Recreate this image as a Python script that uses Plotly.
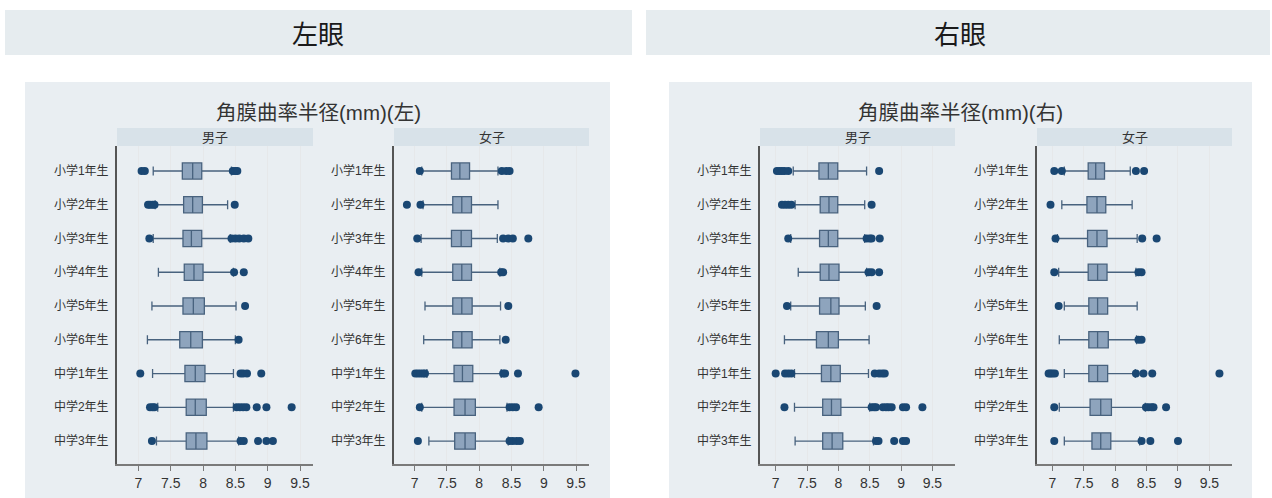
import plotly.graph_objects as go

W, H = 1272, 498

categories = ["小学1年生", "小学2年生", "小学3年生", "小学4年生", "小学5年生",
              "小学6年生", "中学1年生", "中学2年生", "中学3年生"]
x_ticks = [7, 7.5, 8, 8.5, 9, 9.5]
x_ticklabels = ["7", "7.5", "8", "8.5", "9", "9.5"]

# ---- Left eye, male ----
lm_low = [7.23, 7.26, 7.23, 7.31, 7.21, 7.14, 7.22, 7.30, 7.28]
lm_q1 = [7.68, 7.70, 7.69, 7.71, 7.69, 7.64, 7.72, 7.74, 7.74]
lm_med = [7.84, 7.84, 7.82, 7.86, 7.85, 7.81, 7.88, 7.88, 7.89]
lm_q3 = [7.98, 7.99, 7.98, 8.00, 8.02, 7.99, 8.03, 8.05, 8.06]
lm_high = [8.44, 8.38, 8.42, 8.47, 8.51, 8.50, 8.47, 8.47, 8.55]
lm_out = [[7.05, 7.10, 8.46, 8.50, 8.53],
          [7.15, 7.18, 7.22, 7.25, 8.49],
          [7.17, 8.44, 8.50, 8.56, 8.63, 8.70],
          [8.48, 8.63],
          [8.65],
          [8.55],
          [7.03, 8.58, 8.62, 8.68, 8.90],
          [7.18, 7.22, 7.25, 8.52, 8.57, 8.62, 8.67, 8.83, 8.98, 9.37],
          [7.21, 8.58, 8.63, 8.85, 8.98, 9.08]]

# ---- Left eye, female ----
lf_low = [7.11, 7.13, 7.10, 7.11, 7.16, 7.14, 7.19, 7.11, 7.22]
lf_q1 = [7.57, 7.59, 7.57, 7.59, 7.59, 7.59, 7.61, 7.61, 7.62]
lf_med = [7.70, 7.73, 7.72, 7.73, 7.73, 7.73, 7.74, 7.78, 7.78]
lf_q3 = [7.85, 7.88, 7.88, 7.88, 7.89, 7.89, 7.90, 7.94, 7.94]
lf_high = [8.29, 8.29, 8.28, 8.32, 8.33, 8.32, 8.34, 8.43, 8.45]
lf_out = [[7.08, 8.35, 8.42, 8.47],
          [6.88, 7.09],
          [7.04, 8.37, 8.45, 8.52, 8.76],
          [7.06, 8.34, 8.37],
          [8.45],
          [8.41],
          [7.01, 7.05, 7.09, 7.13, 7.16, 8.37, 8.40, 8.60, 9.49],
          [7.08, 8.47, 8.52, 8.57, 8.92],
          [7.05, 8.47, 8.52, 8.58, 8.63]]

# ---- Right eye, male ----
rm_low = [7.28, 7.31, 7.24, 7.36, 7.24, 7.14, 7.30, 7.30, 7.31]
rm_q1 = [7.69, 7.71, 7.70, 7.71, 7.70, 7.65, 7.73, 7.75, 7.75]
rm_med = [7.84, 7.85, 7.84, 7.85, 7.88, 7.84, 7.88, 7.89, 7.90]
rm_q3 = [7.99, 7.99, 7.99, 8.01, 8.01, 8.00, 8.03, 8.04, 8.07]
rm_high = [8.45, 8.42, 8.42, 8.45, 8.43, 8.49, 8.48, 8.50, 8.56]
rm_out = [[7.02, 7.06, 7.10, 7.14, 7.20, 8.65],
          [7.10, 7.15, 7.20, 7.25, 8.53],
          [7.20, 8.45, 8.50, 8.53, 8.66],
          [8.48, 8.53, 8.65],
          [7.18, 8.61],
          [],
          [7.00, 7.15, 7.20, 7.25, 8.58, 8.65, 8.70, 8.74],
          [7.14, 8.53, 8.57, 8.60, 8.71, 8.76, 8.80, 8.85, 9.03, 9.08, 9.34],
          [8.60, 8.64, 8.89, 9.03, 9.08]]

# ---- Right eye, female ----
rf_low = [7.19, 7.15, 7.08, 7.10, 7.19, 7.11, 7.19, 7.11, 7.19]
rf_q1 = [7.57, 7.55, 7.56, 7.57, 7.58, 7.58, 7.58, 7.60, 7.63]
rf_med = [7.69, 7.71, 7.71, 7.72, 7.72, 7.72, 7.72, 7.77, 7.77]
rf_q3 = [7.83, 7.85, 7.87, 7.87, 7.88, 7.89, 7.88, 7.94, 7.93]
rf_high = [8.24, 8.27, 8.35, 8.33, 8.35, 8.34, 8.32, 8.48, 8.39]
rf_out = [[7.03, 7.15, 8.33, 8.46],
          [6.97],
          [7.05, 8.43, 8.66],
          [7.03, 8.37, 8.42],
          [7.10],
          [8.37, 8.42],
          [6.94, 6.97, 7.00, 7.04, 8.33, 8.45, 8.59, 9.66],
          [7.03, 8.49, 8.53, 8.58, 8.61, 8.81],
          [7.03, 8.42, 8.56, 9.00]]

panel_titles = ["角膜曲率半径(mm)(左)", "角膜曲率半径(mm)(右)"]
eye_headers = ["左眼", "右眼"]
sex_labels = ["男子", "女子"]

BOX_FILL = "#8ea4bd"
BOX_LINE = "#48627e"
DOT = "#1a4773"
HEADER_BG = "#e6ecef"
PANEL_BG = "#e9eef2"
STRIP_BG = "#d8e2e9"
FONT = "Liberation Sans, Arial, Noto Sans CJK JP, sans-serif"

def px_x(x):
    return x / W

def px_y(y):
    return 1 - y / H

panels = [
    dict(data=(lm_low, lm_q1, lm_med, lm_q3, lm_high, lm_out), x0=117, x1=313, rng=[6.67, 9.70]),
    dict(data=(lf_low, lf_q1, lf_med, lf_q3, lf_high, lf_out), x0=394, x1=589, rng=[6.68, 9.70]),
    dict(data=(rm_low, rm_q1, rm_med, rm_q3, rm_high, rm_out), x0=760, x1=955, rng=[6.75, 9.86]),
    dict(data=(rf_low, rf_q1, rf_med, rf_q3, rf_high, rf_out), x0=1037, x1=1232, rng=[6.755, 9.86]),
]
PLOT_TOP, PLOT_BOT = 146, 464
STRIP_TOP = 128

fig = go.Figure()
layout_axes = {}
shapes = []
annotations = []

# background shapes
for (a, b) in [(5, 632), (646, 1270)]:
    shapes.append(dict(type="rect", xref="paper", yref="paper", layer="below",
                       x0=px_x(a), x1=px_x(b), y0=px_y(55), y1=px_y(10),
                       fillcolor=HEADER_BG, line=dict(width=0)))
for (a, b) in [(25, 610), (669, 1252)]:
    shapes.append(dict(type="rect", xref="paper", yref="paper", layer="below",
                       x0=px_x(a), x1=px_x(b), y0=px_y(498), y1=px_y(82),
                       fillcolor=PANEL_BG, line=dict(width=0)))

for i, p in enumerate(panels):
    n = i + 1
    xa = "x" if n == 1 else f"x{n}"
    ya = "y" if n == 1 else f"y{n}"
    low, q1, med, q3, high, outs = p["data"]
    fig.add_trace(go.Box(
        y=categories, q1=q1, median=med, q3=q3,
        lowerfence=low, upperfence=high,
        orientation="h", boxpoints=False,
        fillcolor=BOX_FILL, line=dict(color=BOX_LINE, width=1.3),
        width=0.48, whiskerwidth=0.55,
        xaxis=xa, yaxis=ya, showlegend=False, hoverinfo="skip",
    ))
    ox, oy = [], []
    for cat, vals in zip(categories, outs):
        for v in vals:
            ox.append(v)
            oy.append(cat)
    fig.add_trace(go.Scatter(
        x=ox, y=oy, mode="markers",
        marker=dict(color=DOT, size=8, line=dict(width=0)),
        xaxis=xa, yaxis=ya, showlegend=False, hoverinfo="skip",
    ))
    xkey = "xaxis" if n == 1 else f"xaxis{n}"
    ykey = "yaxis" if n == 1 else f"yaxis{n}"
    layout_axes[xkey] = dict(
        domain=[px_x(p["x0"]), px_x(p["x1"])], anchor=ya, range=p["rng"],
        tickvals=x_ticks, ticktext=x_ticklabels,
        showgrid=True, gridcolor="#e6e8ea", gridwidth=1,
        showline=True, linecolor="#7a7a7a", linewidth=1.5,
        ticks="outside", ticklen=5, tickcolor="#7a7a7a",
        tickfont=dict(size=14, color="#333333", family=FONT),
        zeroline=False, fixedrange=True,
    )
    layout_axes[ykey] = dict(
        domain=[px_y(PLOT_BOT), px_y(PLOT_TOP)], anchor=xa,
        type="category", categoryorder="array", categoryarray=categories,
        range=[8.68, -0.74],
        showgrid=False, showline=True, linecolor="#555555", linewidth=2,
        ticks="", ticklabelstandoff=4,
        tickfont=dict(size=12, color="#333333", family=FONT),
        zeroline=False, fixedrange=True,
    )
    # strip
    shapes.append(dict(type="rect", xref="paper", yref="paper", layer="below",
                       x0=px_x(p["x0"]), x1=px_x(p["x1"]),
                       y0=px_y(PLOT_TOP), y1=px_y(STRIP_TOP),
                       fillcolor=STRIP_BG, line=dict(width=0)))
    annotations.append(dict(xref="paper", yref="paper",
                            x=px_x((p["x0"] + p["x1"]) / 2), y=px_y((PLOT_TOP + STRIP_TOP) / 2),
                            text=sex_labels[i % 2], showarrow=False,
                            xanchor="center", yanchor="middle",
                            font=dict(size=13, color="#333333", family=FONT)))

for j, cx in enumerate([318, 960]):
    annotations.append(dict(xref="paper", yref="paper", x=px_x(cx), y=px_y(32),
                            text=eye_headers[j], showarrow=False,
                            xanchor="center", yanchor="middle",
                            font=dict(size=26, color="#1a1a1a", family="Noto Sans CJK JP, sans-serif")))
for j, cx in enumerate([318, 960]):
    annotations.append(dict(xref="paper", yref="paper", x=px_x(cx), y=px_y(112),
                            text=panel_titles[j], showarrow=False,
                            xanchor="center", yanchor="middle",
                            font=dict(size=20.5, color="#333333", family=FONT)))

fig.update_layout(
    width=W, height=H, margin=dict(l=0, r=0, t=0, b=0),
    paper_bgcolor="white", plot_bgcolor="white",
    shapes=shapes, annotations=annotations,
    font=dict(family=FONT), showlegend=False,
    **layout_axes,
)

fig.write_html("out.html", config={"displayModeBar": False},
               post_script="document.body.style.margin='0px';document.body.style.overflow='hidden';")
